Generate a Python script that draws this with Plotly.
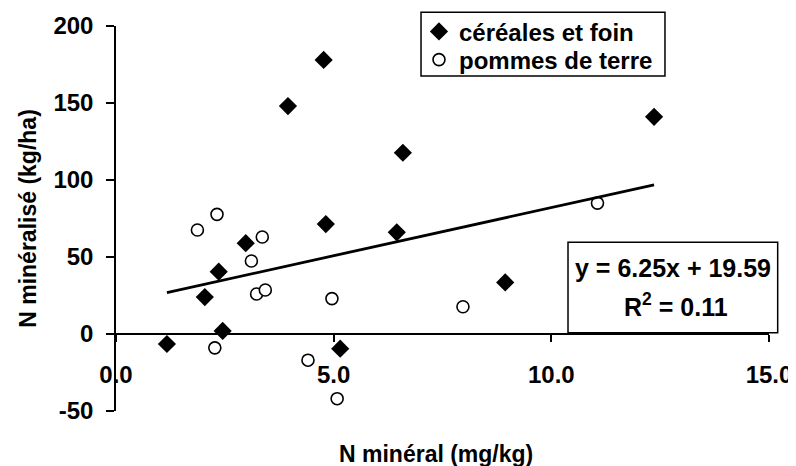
import plotly.graph_objects as go

# Data
cereales_x = [1.17, 2.04, 2.36, 2.45, 2.98, 3.95, 4.77, 4.82, 5.15, 6.45, 6.59, 8.94, 12.36]
cereales_y = [-6.5, 24, 40.5, 2, 59, 148, 178, 71.4, -9.5, 66, 117.7, 33.5, 141]

pommes_x = [1.87, 2.27, 2.32, 3.11, 3.23, 3.36, 3.43, 4.41, 4.96, 5.08, 7.97, 11.06]
pommes_y = [67.5, -9, 77.7, 47.4, 26, 63, 28.6, -17, 23, -42, 17.7, 85]

slope = 6.25
intercept = 19.59
r2 = 0.11

x_ticks = [0, 5, 10, 15]
x_tick_labels = ["0.0", "5.0", "10.0", "15.0"]
y_ticks = [-50, 0, 50, 100, 150, 200]
y_tick_labels = ["-50", "0", "50", "100", "150", "200"]

FONT = "Liberation Sans, Arial, sans-serif"
TICK_FONT = dict(family=FONT, size=24, color="black", weight="bold")
TITLE_FONT = dict(family=FONT, size=23, color="black", weight="bold")
LEG_FONT = dict(family=FONT, size=24, color="black", weight="bold")

all_x = cereales_x + pommes_x
trend_x = [min(all_x), max(all_x)]
trend_y = [slope * v + intercept for v in trend_x]

fig = go.Figure()
fig.add_trace(go.Scatter(
    x=cereales_x, y=cereales_y, mode="markers", name="céréales et foin",
    marker=dict(symbol="diamond", size=14, color="black", line=dict(width=0)),
    legend="legend",
))
fig.add_trace(go.Scatter(
    x=pommes_x, y=pommes_y, mode="markers", name="pommes de terre",
    marker=dict(symbol="circle", size=12, color="white", line=dict(width=1.6, color="black")),
    legend="legend2",
))
fig.add_trace(go.Scatter(
    x=trend_x, y=trend_y, mode="lines", showlegend=False,
    line=dict(color="black", width=2.8),
))

leg_common = dict(
    xanchor="left", yanchor="middle",
    bgcolor="rgba(0,0,0,0)", borderwidth=0,
    font=LEG_FONT, itemwidth=30,
)

fig.update_layout(
    width=788, height=458,
    margin=dict(l=108, r=27, t=18, b=55, autoexpand=False),
    paper_bgcolor="white", plot_bgcolor="white",
    font=dict(family=FONT, size=22, color="black", weight="bold"),
    showlegend=True,
    legend=dict(x=0.464, y=0.985, **leg_common),
    legend2=dict(x=0.464, y=0.9117, **leg_common),
    xaxis=dict(
        range=[0, 15], anchor="free", position=0.2,
        tickvals=x_ticks, ticktext=x_tick_labels,
        showline=True, linecolor="black", linewidth=1.5,
        ticks="outside", ticklen=7, tickwidth=1.5, tickcolor="black",
        showgrid=False, zeroline=False,
        tickfont=TICK_FONT,
        ticklabelstandoff=12,
    ),
    yaxis=dict(
        range=[-50, 200],
        tickvals=y_ticks, ticktext=y_tick_labels,
        showline=True, linecolor="black", linewidth=1.5,
        ticks="outside", ticklen=8, tickwidth=1.5, tickcolor="black",
        showgrid=False, zeroline=False,
        tickfont=TICK_FONT,
        ticklabelstandoff=8,
        title=dict(text="N minéralisé (kg/ha)", standoff=10, font=TITLE_FONT),
    ),
)

# legend frame
fig.add_shape(type="rect", xref="paper", yref="paper",
              x0=0.4671, x1=0.8407, y0=0.8701, y1=1.0356,
              line=dict(color="black", width=1.5), fillcolor="white", layer="above")

# x-axis title
fig.add_annotation(
    text="N minéral (mg/kg)", xref="paper", yref="paper",
    x=0.49, y=-0.112, xanchor="center", yanchor="middle", showarrow=False,
    font=TITLE_FONT,
)

# Equation box
fig.add_shape(type="rect", xref="paper", yref="paper",
              x0=0.6922, x1=1.0133, y0=0.2034, y1=0.4382,
              line=dict(color="black", width=1.5), fillcolor="white", layer="above")
fig.add_annotation(
    text=f"y = {slope:.2f}x + {intercept:.2f}", xref="paper", yref="paper",
    x=0.853, y=0.3714, xanchor="center", yanchor="middle", showarrow=False,
    font=dict(family=FONT, size=25, color="black", weight="bold"),
)
fig.add_annotation(
    text=f"R<sup>2</sup> = {r2:.2f}", xref="paper", yref="paper",
    x=0.858, y=0.2753, xanchor="center", yanchor="middle", showarrow=False,
    font=dict(family=FONT, size=25, color="black", weight="bold"),
)

fig.write_html("out.html")
